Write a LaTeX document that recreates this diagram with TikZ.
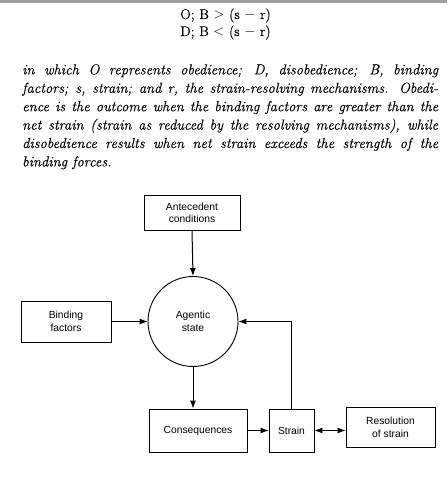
\documentclass[tikz,border=0pt]{standalone}
\usepackage{fontspec}
\newfontfamily\labelfont{Liberation Sans}
\newfontfamily\heavyserif{Latin Modern Roman}[FakeBold=0.2]
\usetikzlibrary{arrows.meta}
\begin{document}
\begin{tikzpicture}[x=1pt,y=-1pt,
  lbl/.style={font=\labelfont\fontsize{10.3}{12.5}\selectfont},
  box/.style={draw, line width=0.9pt, lbl, align=center, inner sep=0pt},
  arr/.style={line width=1pt, -{Latex[length=8pt,width=6pt]}},
  darr/.style={line width=1pt, {Latex[length=8pt,width=6pt]}-{Latex[length=8pt,width=6pt]}},
  formula/.style={font=\heavyserif\fontsize{14}{17}\selectfont, inner sep=0pt}
]
\useasboundingbox (0,0) rectangle (447,484);
\fill[gray!75] (0,0) rectangle (447,3.5);
\node[formula] (f1) at (225.5,15.5) {O; B $>$ (s $-$ r)};
\node[formula] (f2) at (225.5,32.5) {D; B $<$ (s $-$ r)};
\node[anchor=north west, inner sep=0pt, text width=416pt, align=justify,
      font=\heavyserif\fontsize{14.5}{18.4}\selectfont\itshape] (para) at (22,64)
 {\tolerance=10000 in which O represents obedience; D, disobedience; B, binding\linebreak
  factors; s, strain; and r, the strain-resolving mechanisms. Obedi-\linebreak
  ence is the outcome when the binding factors are greater than the\linebreak
  net strain (strain as reduced by the resolving mechanisms), while\linebreak
  disobedience results when net strain exceeds the strength of the\linebreak
  binding forces.};
\node[box, minimum width=96pt, minimum height=35pt] (ante) at (192,213) {Antecedent\\conditions};
\node[draw, circle, line width=0.9pt, minimum size=90pt, inner sep=0pt, align=center, lbl]
  (agent) at (193,321.5) {Agentic\\state};
\node[box, minimum width=90pt, minimum height=41pt] (bind) at (66,321.5) {Binding\\factors};
\node[box, minimum width=98pt, minimum height=43pt] (cons) at (198,430.5) {Consequences};
\node[box, minimum width=45pt, minimum height=43pt] (strain) at (291.5,430.5) {Strain};
\node[box, minimum width=89pt, minimum height=40pt] (res) at (390.5,427.5) {Resolution\\of strain};
\draw[arr] (ante.south) -- (agent.north);
\draw[arr] (bind.east) -- (agent.west);
\draw[arr] (agent.south) -- (agent.south |- cons.north);
\draw[arr] (cons.east) -- (strain.west);
\draw[arr] (strain.north) -- (strain.north |- agent.east) -- (agent.east);
\draw[darr] (strain.east) -- (strain.east -| res.west);
\end{tikzpicture}
\end{document}
